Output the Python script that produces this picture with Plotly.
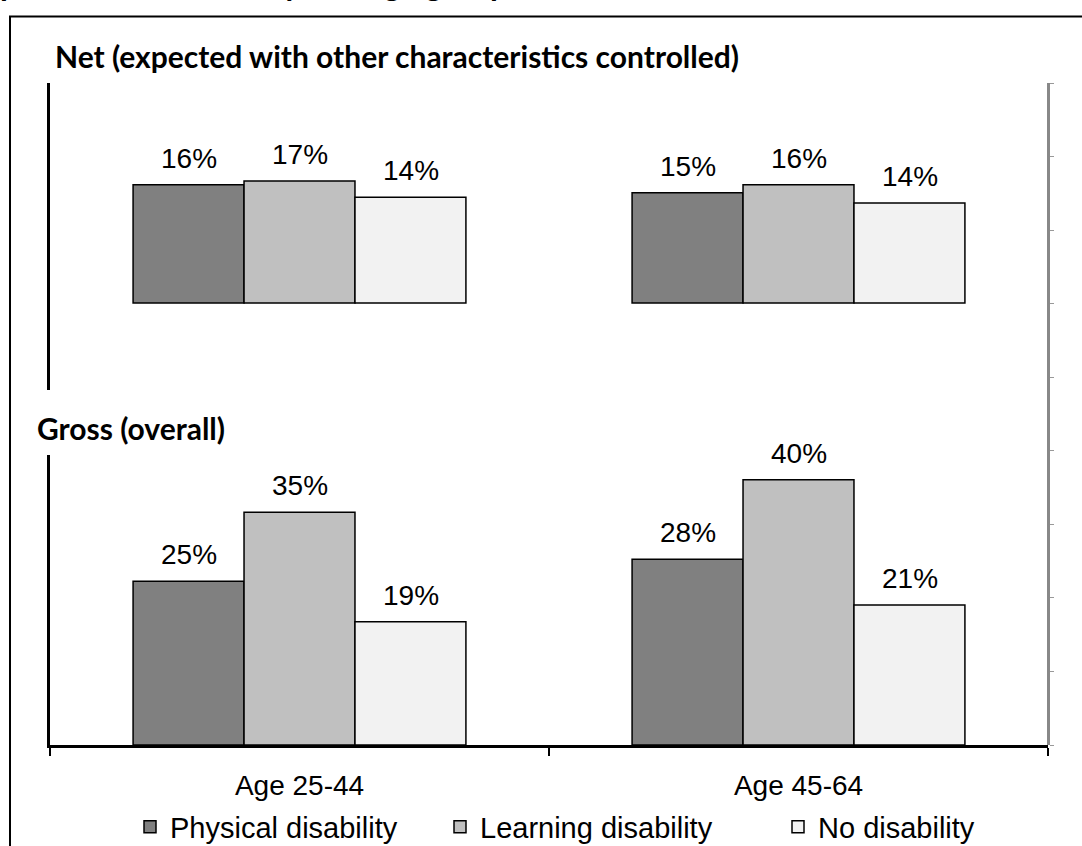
import plotly.graph_objects as go

# ---- data ----
age_groups = ["Age 25-44", "Age 45-64"]
series_names = ["Physical disability", "Learning disability", "No disability"]
net_values = {
    "Physical disability": [16.1, 15.0],
    "Learning disability": [16.6, 16.1],
    "No disability": [14.4, 13.6],
}
gross_values = {
    "Physical disability": [24.7, 28.0],
    "Learning disability": [35.1, 40.0],
    "No disability": [18.6, 21.1],
}
panel_titles = ["Net (expected with other characteristics controlled)", "Gross (overall)"]
cut_title = "presence of disability and age group"

colors = {"Physical disability": "#808080", "Learning disability": "#C0C0C0", "No disability": "#F2F2F2"}
legend_ids = {"Physical disability": "legend", "Learning disability": "legend2", "No disability": "legend3"}

W, H = 1082, 846
L, R, T, B = 50, 1082 - 1048, 83, 846 - 745
PH = H - T - B
PW = W - L - R


def px(cx):
    return (cx - L) / PW


def py(cy):
    return (H - B - cy) / PH


FONT = "Liberation Sans, Arial, sans-serif"
TFONT = "Lato, Liberation Sans, sans-serif"

fig = go.Figure()
for name in series_names:
    fig.add_trace(go.Bar(
        x=age_groups, y=gross_values[name], name=name,
        marker=dict(color=colors[name], line=dict(color="black", width=1.5)),
        xaxis="x", yaxis="y", showlegend=False, legendgroup=name, hoverinfo="skip",
    ))
for name in series_names:
    fig.add_trace(go.Bar(
        x=age_groups, y=net_values[name], name=name,
        marker=dict(color=colors[name], line=dict(color="black", width=1.5)),
        xaxis="x2", yaxis="y2", showlegend=True, legendgroup=name,
        legend=legend_ids[name], hoverinfo="skip",
    ))
fig.add_trace(go.Scatter(x=[], y=[], xaxis="x", yaxis="y3", showlegend=False, hoverinfo="skip"))

annotations = []
offsets = [-1, 0, 1]
for ref, vals in (("", gross_values), ("2", net_values)):
    for k, name in enumerate(series_names):
        for i, g in enumerate(age_groups):
            v = vals[name][i]
            annotations.append(dict(
                x=g, y=v, xref="x" + ref, yref="y" + ref, text=f"{round(v)}%",
                showarrow=False, yanchor="bottom", yshift=9, xshift=offsets[k] * 111,
                font=dict(family=FONT, size=28, color="black"),
            ))

annotations.append(dict(x=px(53), y=py(56), xref="paper", yref="paper", text="<b>" + panel_titles[0] + "</b>",
                        showarrow=False, xanchor="left", yanchor="middle",
                        font=dict(family=TFONT, size=30, color="black")))
annotations.append(dict(x=px(35), y=py(428), xref="paper", yref="paper", text="<b>" + panel_titles[1] + "</b>",
                        showarrow=False, xanchor="left", yanchor="middle",
                        font=dict(family=TFONT, size=30, color="black")))
annotations.append(dict(x=px(-2), y=py(5), xref="paper", yref="paper", text="<b>" + cut_title + "</b>",
                        showarrow=False, xanchor="left", yanchor="bottom",
                        font=dict(family=TFONT, size=32, color="black")))

legend_x = {"legend": 130, "legend2": 440, "legend3": 778}
leg_common = dict(orientation="h", xanchor="left", yanchor="middle", y=py(827),
                  font=dict(family=FONT, size=29, color="black"), bgcolor="rgba(0,0,0,0)",
                  borderwidth=0, itemclick=False, itemdoubleclick=False)

fig.update_layout(
    width=W, height=H,
    margin=dict(l=L, r=R, t=T, b=B, autoexpand=False),
    paper_bgcolor="white", plot_bgcolor="rgba(0,0,0,0)",
    barmode="group", bargap=0.333, bargroupgap=0,
    showlegend=True,
    legend=dict(x=px(legend_x["legend"]), **leg_common),
    legend2=dict(x=px(legend_x["legend2"]), **leg_common),
    legend3=dict(x=px(legend_x["legend3"]), **leg_common),
    xaxis=dict(domain=[0, 1], anchor="y", type="category", showline=True, linecolor="black", linewidth=3,
               ticks="outside", tickson="boundaries", ticklen=8, tickwidth=2, tickcolor="black",
               tickfont=dict(family=FONT, size=28, color="black"), ticklabelstandoff=13,
               showgrid=False, zeroline=False),
    xaxis2=dict(domain=[0, 1], anchor="y2", matches="x", visible=False),
    yaxis=dict(domain=[0, py(455)], range=[0, 290 / 6.63], showline=True, linecolor="black", linewidth=3,
               showticklabels=False, ticks="", showgrid=False, zeroline=False),
    yaxis2=dict(domain=[py(390), 1], range=[-(390 - 303) / 7.35, (303 - 83) / 7.35], showline=True,
                linecolor="black", linewidth=3, showticklabels=False, ticks="", showgrid=False, zeroline=False),
    yaxis3=dict(domain=[0, 1], anchor="free", position=1, side="right", range=[0, 9], dtick=1,
                ticks="outside", ticklen=4, tickwidth=1, tickcolor="#999999", showline=True,
                linecolor="#888888", linewidth=3, showticklabels=False, showgrid=False, zeroline=False),
    annotations=annotations,
    shapes=[dict(type="rect", xref="paper", yref="paper", x0=px(10), x1=px(1200), y0=py(1000), y1=py(16.5),
                 line=dict(color="black", width=2), fillcolor="rgba(0,0,0,0)", layer="above")],
)

fig.write_html("out.html", config={"displayModeBar": False},
               post_script="document.body.style.margin='0';")
